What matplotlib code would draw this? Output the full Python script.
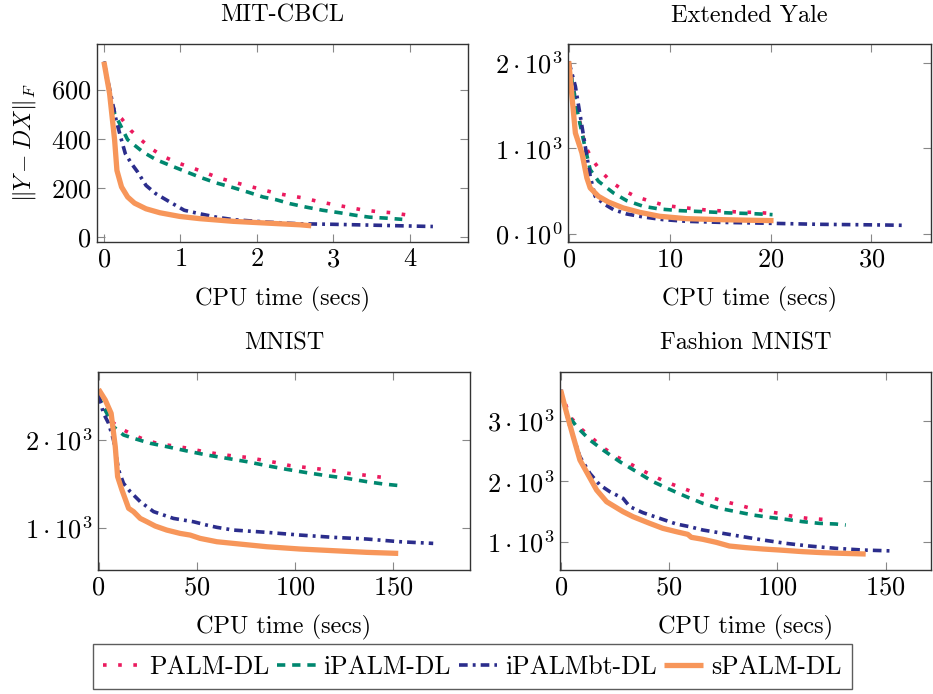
import matplotlib
matplotlib.use("Agg")
import matplotlib.pyplot as plt

plt.rcParams['font.family'] = 'serif'
plt.rcParams['font.serif'] = ['cmr10']
plt.rcParams['mathtext.fontset'] = 'cm'
plt.rcParams['axes.unicode_minus'] = False

methods = ['PALM-DL', 'iPALM-DL', 'iPALMbt-DL', 'sPALM-DL']
colors = ['#EB1A5E', '#00876F', '#2B2D8C', '#F7965A']

# MIT-CBCL
mit_palm_t = [0, 0.05, 0.1, 0.15, 0.23, 0.35, 0.49, 0.63, 0.79, 0.97, 1.15, 1.33, 1.51, 1.69, 1.87,
              2.06, 2.24, 2.43, 2.61, 2.81, 2.99, 3.18, 3.37, 3.56, 3.76, 3.96]
mit_palm_e = [713, 620, 545, 505, 482, 434, 394, 357, 326, 301, 282, 261, 240, 224, 209,
              194, 179, 168, 159, 144, 133, 122, 111, 104, 99, 90]
mit_ipalm_t = [0, 0.07, 0.14, 0.31, 0.51, 0.68, 0.86, 1.08, 1.25, 1.47, 1.69, 1.88, 2.08, 2.25,
               2.43, 2.64, 2.86, 3.08, 3.30, 3.47, 3.69, 3.9]
mit_ipalm_e = [713, 590, 502, 396, 346, 315, 292, 265, 244, 220, 201, 183, 163, 152,
               136, 122, 109, 99, 88, 81, 77, 72]
mit_bt_t = [0, 0.096, 0.16, 0.23, 0.28, 0.36, 0.44, 0.55, 0.68, 0.86, 1.05, 1.25, 1.47, 1.69,
            2.12, 2.56, 2.99, 3.43, 3.86, 4.30]
mit_bt_e = [713, 570, 475, 394, 339, 299, 265, 210, 176, 143, 109, 95, 81, 71,
            61, 54, 52, 49, 46, 43]
mit_s_t = [0, 0.074, 0.14, 0.17, 0.23, 0.31, 0.40, 0.55, 0.73, 0.99, 1.25, 1.69, 2.12, 2.56, 2.71]
mit_s_e = [713, 584, 394, 271, 204, 163, 138, 115, 99, 84, 75, 64, 57, 50, 46]

# Extended Yale
yale_palm_t = [0, 0.8, 1.64, 2.46, 3.28, 4.36, 5.48, 6.72, 8.13, 9.5, 10.98, 12.36, 13.87, 15.31,
               16.72, 18.2, 20.3]
yale_palm_e = [2020, 1480, 1025, 850, 721, 596, 507, 433, 382, 335, 312, 296, 277, 269,
               257, 253, 240]
yale_ipalm_t = [0, 0.82, 1.64, 2.13, 2.95, 4.43, 5.74, 7.38, 9.0, 10.98, 13.28, 15.9, 18.2, 20.2]
yale_ipalm_e = [2020, 1454, 1000, 752, 616, 480, 390, 324, 292, 273, 261, 246, 238, 226]
yale_bt_t = [0, 0.66, 1.15, 1.64, 2.13, 2.62, 3.44, 4.43, 5.74, 7.38, 9.34, 11.64, 14.92, 18.2,
             21.5, 24.75, 28.0, 31.3, 33.1]
yale_bt_e = [2020, 1727, 1376, 1025, 674, 440, 355, 285, 234, 199, 168, 148, 136, 129,
             121, 113, 109, 105, 101]
yale_s_t = [0, 0.66, 1.31, 1.8, 2.13, 2.95, 3.93, 5.41, 7.05, 9.0, 11.64, 14.92, 18.2, 20.3]
yale_s_e = [2020, 1181, 947, 655, 538, 440, 374, 304, 253, 207, 179, 168, 160, 156]

# MNIST
mn_palm_t = [0, 2.5, 6.8, 11, 17.8, 24.6, 31.4, 38.1, 45.8, 53.4, 61, 68.6, 75.4, 83, 90.7,
             97.5, 105, 112.4, 119.5, 127, 134.7, 141.5, 148.6]
mn_palm_e = [2513, 2380, 2209, 2133, 2057, 1992, 1954, 1932, 1905, 1867, 1840, 1817, 1802, 1772, 1741,
             1707, 1688, 1669, 1650, 1620, 1601, 1582, 1563]
mn_ipalm_t = [0, 0.85, 4.2, 7.6, 12.7, 17.8, 26.3, 34.7, 44.9, 55, 65.3, 75.4, 85.6, 95.8, 106,
              116, 126.3, 136.4, 144.9, 153.4]
mn_ipalm_e = [2513, 2456, 2304, 2152, 2057, 2019, 1962, 1924, 1875, 1829, 1791, 1753, 1707, 1665, 1627,
              1593, 1563, 1525, 1498, 1479]
mn_bt_t = [0, 2.5, 5.1, 7.6, 10.2, 12.7, 16.1, 21.2, 28, 38.1, 48.3, 55, 60.2, 68.6, 85.6,
           102.5, 119.5, 136.4, 153.4, 170.3]
mn_bt_e = [2513, 2304, 2190, 2000, 1658, 1506, 1411, 1297, 1183, 1106, 1068, 1030, 1004, 973, 947,
           916, 890, 871, 840, 821]
mn_s_t = [0, 3.4, 6.4, 8.5, 9.7, 11.9, 15.3, 17.8, 21.2, 24.6, 28.8, 34.7, 41.5, 46.6, 51.7,
          60.2, 68.6, 85.6, 102.5, 119.5, 136.4, 152.5]
mn_s_e = [2578, 2456, 2304, 1924, 1582, 1430, 1221, 1183, 1106, 1068, 1019, 973, 935, 916, 878,
          840, 821, 783, 757, 738, 719, 707]

# Fashion MNIST
fa_palm_t = [0, 4.3, 9.7, 14.7, 19.6, 25.8, 31.1, 37.3, 43.4, 49.5, 55.7, 61.8, 68.4, 74.8, 81,
             87.9, 94, 100.9, 107.8, 113.9, 120.9]
fa_palm_e = [3507, 3066, 2857, 2708, 2554, 2405, 2306, 2185, 2074, 1975, 1893, 1810, 1744, 1672, 1617,
             1551, 1507, 1468, 1413, 1386, 1369]
fa_ipalm_t = [0, 2.8, 7.4, 13.5, 19.6, 27.3, 35, 42.6, 50.3, 58, 65.6, 73.3, 81, 88.7, 96.3,
              104, 111.7, 119.3, 127, 131.6]
fa_ipalm_e = [3507, 3121, 2901, 2680, 2515, 2322, 2157, 1992, 1865, 1744, 1634, 1551, 1496, 1441, 1402,
              1369, 1331, 1303, 1292, 1275]
fa_bt_t = [0, 4.3, 8.9, 13.5, 18.1, 22.7, 28.8, 31.9, 38, 45.7, 53.4, 59.5, 65.6, 74.8, 84,
           93.3, 104, 114.7, 127, 139.3, 153.8]
fa_bt_e = [3507, 2901, 2405, 2129, 1937, 1826, 1716, 1579, 1479, 1386, 1292, 1248, 1193, 1138, 1083,
           1028, 972, 928, 890, 862, 846]
fa_s_t = [0, 2.8, 5.8, 8.9, 11.9, 16.6, 21.2, 28.8, 33.4, 41.1, 47.2, 53.4, 58.7, 60.3, 65.6,
          71.8, 77.9, 85.6, 93.3, 100.9, 111.7, 120.9, 130.1, 140.8]
fa_s_e = [3507, 3121, 2736, 2350, 2157, 1854, 1661, 1496, 1413, 1303, 1220, 1165, 1121, 1072, 1039,
          989, 928, 901, 879, 862, 835, 818, 807, 796]

panels = [
    dict(title='MIT-CBCL',
         series=[(mit_palm_t, mit_palm_e), (mit_ipalm_t, mit_ipalm_e), (mit_bt_t, mit_bt_e), (mit_s_t, mit_s_e)],
         xlim=(-0.09, 4.76), ylim=(-20, 785),
         xticks=[0, 1, 2, 3, 4], xlabels=['0', '1', '2', '3', '4'],
         yticks=[0, 200, 400, 600], ylabels=['0', '200', '400', '600'],
         pos=[0.104, 0.6513, 0.3977, 0.2853]),
    dict(title='Extended Yale',
         series=[(yale_palm_t, yale_palm_e), (yale_ipalm_t, yale_ipalm_e), (yale_bt_t, yale_bt_e), (yale_s_t, yale_s_e)],
         xlim=(-0.07, 35.9), ylim=(-94, 2222),
         xticks=[0, 10, 20, 30], xlabels=['0', '10', '20', '30'],
         yticks=[0, 1000, 2000], ylabels=[r'0\cdot10^{0}', r'1\cdot10^{3}', r'2\cdot10^{3}'],
         pos=[0.6088, 0.6513, 0.389, 0.2853]),
    dict(title='MNIST',
         series=[(mn_palm_t, mn_palm_e), (mn_ipalm_t, mn_ipalm_e), (mn_bt_t, mn_bt_e), (mn_s_t, mn_s_e)],
         xlim=(-0.3, 189), ylim=(518, 2775),
         xticks=[0, 50, 100, 150], xlabels=['0', '50', '100', '150'],
         yticks=[1000, 2000], ylabels=[r'1\cdot10^{3}', r'2\cdot10^{3}'],
         pos=[0.105, 0.1787, 0.3987, 0.2853]),
    dict(title='Fashion MNIST',
         series=[(fa_palm_t, fa_palm_e), (fa_ipalm_t, fa_ipalm_e), (fa_bt_t, fa_bt_e), (fa_s_t, fa_s_e)],
         xlim=(-0.3, 171), ylim=(532, 3805),
         xticks=[0, 50, 100, 150], xlabels=['0', '50', '100', '150'],
         yticks=[1000, 2000, 3000], ylabels=[r'1\cdot10^{3}', r'2\cdot10^{3}', r'3\cdot10^{3}'],
         pos=[0.6002, 0.1787, 0.3978, 0.2853]),
]

styles = [
    dict(lw=2.6, dashes=(1, 3.2)),
    dict(lw=2.6, dashes=(2.3, 1.9)),
    dict(lw=2.6, dashes=(2.4, 1.4, 0.8, 1.4)),
    dict(lw=3.8, linestyle='-'),
]

fig = plt.figure(figsize=(9.33, 6.94), dpi=100)

handles = []
for p in panels:
    ax = fig.add_axes(p['pos'])
    lines = []
    for (t, e), c, st, name in zip(p['series'], colors, styles, methods):
        ln, = ax.plot(t, e, color=c, label=name, solid_capstyle='butt', **st)
        lines.append(ln)
    if not handles:
        handles = lines
    ax.set_xlim(*p['xlim'])
    ax.set_ylim(*p['ylim'])
    ax.set_xticks(p['xticks'], ['$' + s + '$' for s in p['xlabels']])
    ax.set_yticks(p['yticks'], ['$' + s + '$' for s in p['ylabels']])
    ax.tick_params(direction='in', top=True, right=True, length=6, width=0.8,
                   color='#888888', labelsize=19, pad=4)
    for sp in ax.spines.values():
        sp.set_color('#333333')
        sp.set_linewidth(1.0)
    ax.set_title(p['title'], fontsize=17.5, pad=16)
    ax.set_xlabel('CPU time (secs)', fontsize=17.5, labelpad=11)

fig.axes[0].set_ylabel(r'$\|Y-DX\|_F$', fontsize=17, labelpad=9)

leg = fig.legend(handles, methods, loc='lower center', bbox_to_anchor=(0.506, -0.011), ncol=4,
                 fontsize=18.5, frameon=True, fancybox=False, edgecolor='#333333',
                 handlelength=1.5, handletextpad=0.3, columnspacing=0.3, borderpad=0.4)
leg.get_frame().set_linewidth(1.0)

fig.savefig('out.png', dpi=100)
